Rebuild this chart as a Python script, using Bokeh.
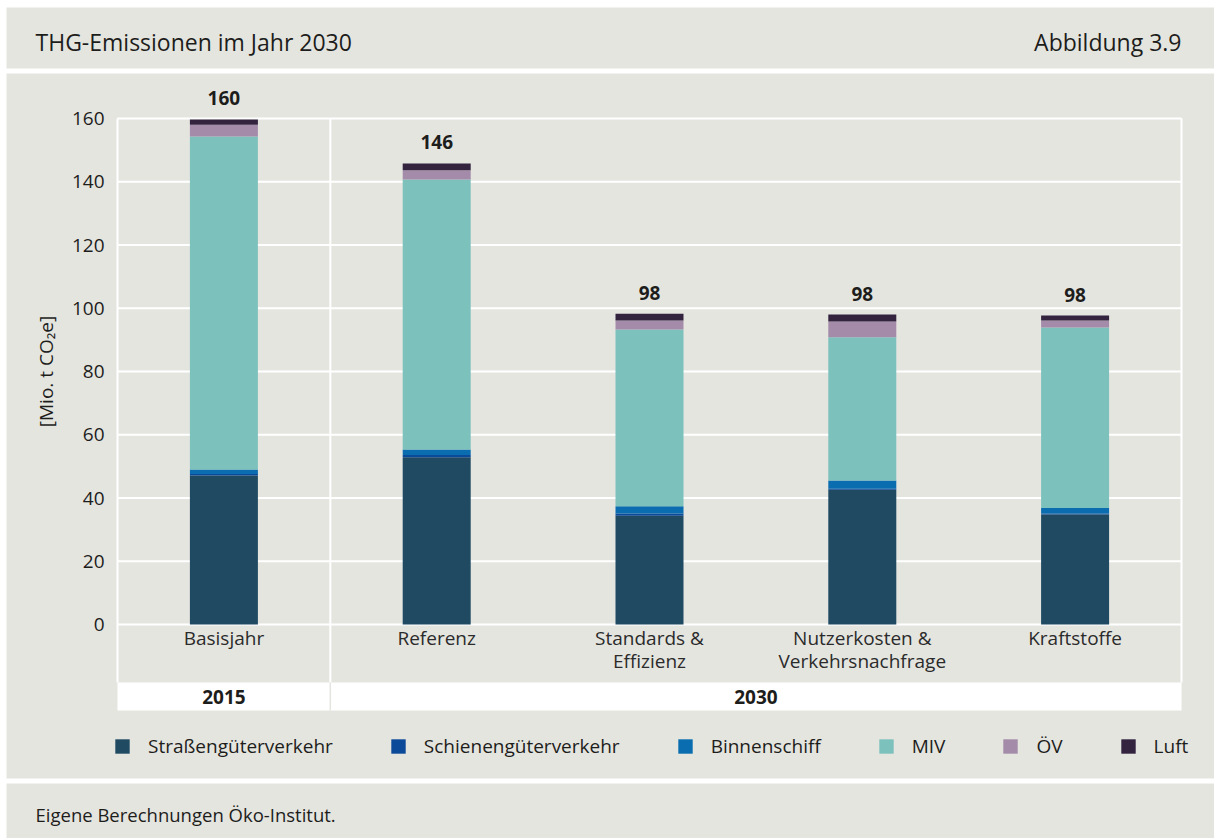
import math
from bokeh.plotting import figure
from bokeh.models import Range1d, ColumnDataSource, Legend, LegendItem
from bokeh.core.properties import value
from bokeh.embed import file_html
from bokeh.resources import INLINE

# ---------------- data ----------------
categories = ["Basisjahr", "Referenz", "Standards &\nEffizienz",
              "Nutzerkosten &\nVerkehrsnachfrage", "Kraftstoffe"]
category_years = ["2015", "2030", "2030", "2030", "2030"]
series_names = ["Straßengüterverkehr", "Schienengüterverkehr", "Binnenschiff",
                "MIV", "ÖV", "Luft"]
strassengueterverkehr = [47.1, 52.9, 34.4, 42.6, 34.8]
schienengueterverkehr = [0.5, 0.7, 0.7, 0.3, 0.3]
binnenschiff = [1.4, 1.7, 2.3, 2.6, 1.7]
miv = [105.3, 85.4, 55.9, 45.3, 57.1]
oev = [3.7, 2.9, 2.8, 5.0, 2.2]
luft = [1.7, 2.2, 2.2, 2.2, 1.6]
y_ticks = [0, 20, 40, 60, 80, 100, 120, 140, 160]

title_text = "THG-Emissionen im Jahr 2030"
figure_number = "Abbildung 3.9"
y_label = "[Mio. t CO\u2082e]"
source_text = "Eigene Berechnungen Öko-Institut."

# ---------------- style / layout ----------------
colors = ["#1F4A62", "#0B4A98", "#0A6DAF", "#7DC1BD", "#A48BAA", "#33233F"]
BG = "#E5E5E0"
TXT = "#1d1d1b"
FONT = value("Open Sans")
W, H = 1214, 838
PL, PR = 117, 1181          # plot area left/right (px)
P0, P160 = 624, 118         # px of y=0 and y=160
slot = (PR - PL) / len(categories)
ppu = (P0 - P160) / 160.0


def X(px):
    return (px - PL) / slot - 0.5


def Y(py):
    return (P0 - py) / ppu


p = figure(width=W, height=H, x_range=Range1d(X(0), X(W)),
           y_range=Range1d(Y(H), Y(0)), min_border=0,
           toolbar_location=None, output_backend="svg",
           x_axis_location=None, y_axis_location=None,
           background_fill_color="white", border_fill_color="white",
           outline_line_color=None)
p.xgrid.visible = False
p.ygrid.visible = False

# background panels
p.quad(left=[X(6)] * 3, right=[X(W)] * 3,
       top=[Y(7), Y(73), Y(783)], bottom=[Y(68), Y(778), Y(H)],
       fill_color=BG, line_color=None)

# header / footer texts
p.text(x=[X(35)], y=[Y(41)], text=[title_text], text_font=FONT,
       text_font_size="23px", text_color=TXT, text_align="left",
       text_baseline="middle")
p.text(x=[X(1181)], y=[Y(41)], text=[figure_number], text_font=FONT,
       text_font_size="23px", text_color=TXT, text_align="right",
       text_baseline="middle")
p.text(x=[X(35)], y=[Y(814)], text=[source_text], text_font=FONT,
       text_font_size="18.5px", text_color=TXT, text_align="left",
       text_baseline="middle")

n = len(categories)
lo, hi = -0.5, n - 0.5

# grid lines
p.segment(x0=[lo] * len(y_ticks), x1=[hi] * len(y_ticks), y0=y_ticks,
          y1=y_ticks, line_color="white", line_width=2)
# vertical separators (category-year groups)
bounds = [lo, hi]
for i in range(1, n):
    if category_years[i] != category_years[i - 1]:
        bounds.append(i - 0.5)
p.segment(x0=bounds, x1=bounds, y0=[y_ticks[-1]] * len(bounds),
          y1=[Y(682)] * len(bounds), line_color="white", line_width=2)

# white year row
p.quad(left=[lo], right=[hi], top=[Y(682)], bottom=[Y(710)],
       fill_color="white", line_color=None)
inner = [b for b in bounds if lo < b < hi]
p.segment(x0=inner, x1=inner, y0=[Y(682)] * len(inner),
          y1=[Y(710)] * len(inner), line_color=BG, line_width=1.5)

# y tick labels
p.text(x=[X(104)] * len(y_ticks), y=y_ticks, text=[str(t) for t in y_ticks],
       text_font=FONT, text_font_size="19px", text_color=TXT,
       text_align="right", text_baseline="middle")
# y axis label
p.text(x=[X(45)], y=[(y_ticks[0] + y_ticks[-1]) / 2], text=[y_label],
       angle=math.pi / 2, text_font=FONT, text_font_size="19px",
       text_color=TXT, text_align="center", text_baseline="middle")

# bars
xs = list(range(n))
keys = ["s0", "s1", "s2", "s3", "s4", "s5"]
series = [strassengueterverkehr, schienengueterverkehr, binnenschiff, miv, oev, luft]
data = dict(x=xs)
for k, s in zip(keys, series):
    data[k] = s
src = ColumnDataSource(data)
renderers = p.vbar_stack(keys, x="x", width=68 / slot, source=src,
                         fill_color=colors, line_color=None)

# totals
totals = [sum(v) for v in zip(*series)]
p.text(x=xs, y=totals, text=[str(int(round(t))) for t in totals],
       y_offset=-21, text_font=FONT, text_font_size="19px",
       text_font_style="bold", text_color=TXT, text_align="center",
       text_baseline="middle")

# category labels
p.text(x=xs, y=[Y(624)] * n, text=categories, text_font=FONT,
       text_font_size="19px", text_color="#2b2b2b", text_align="center",
       text_baseline="top", text_line_height=0.89)

# year labels
years = []
for y in category_years:
    if y not in years:
        years.append(y)
year_x = [sum(i for i in xs if category_years[i] == y) /
          category_years.count(y) for y in years]
p.text(x=year_x, y=[Y(696)] * len(years), text=years, text_font=FONT,
       text_font_size="19px", text_font_style="bold", text_color=TXT,
       text_align="center", text_baseline="middle")

# legend
legend = Legend(items=[LegendItem(label=nm, renderers=[r])
                       for nm, r in zip(series_names, renderers)],
                orientation="horizontal", location=(113, 79), spacing=56,
                padding=0, margin=0, glyph_width=18, glyph_height=18,
                label_standoff=17, label_height=18,
                label_text_font="Open Sans", label_text_font_size="19px",
                label_text_color=TXT, background_fill_alpha=0,
                border_line_alpha=0)
p.add_layout(legend)

open("out.html", "w").write(file_html(p, INLINE))
